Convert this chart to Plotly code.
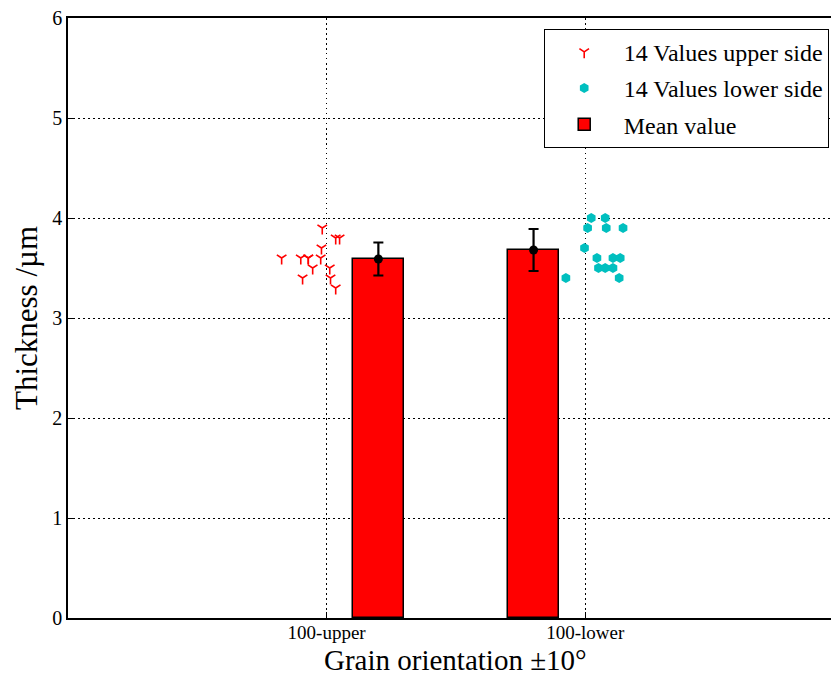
import plotly.graph_objects as go

categories = ["100-upper", "100-lower"]
cat_pos = [0, 1]

upper_values = [3.9, 3.8, 3.8, 3.7, 3.6, 3.6, 3.6, 3.6, 3.6, 3.5, 3.5, 3.4, 3.4, 3.3]
upper_jitter = [-0.017, 0.035, 0.050, -0.020, -0.174, -0.100, -0.071, -0.071, -0.023, -0.054, 0.012, -0.093, 0.015, 0.035]

lower_values = [4.0, 4.0, 3.9, 3.9, 3.9, 3.7, 3.6, 3.6, 3.6, 3.5, 3.5, 3.5, 3.4, 3.4]
lower_jitter = [0.023, 0.077, 0.009, 0.081, 0.146, -0.003, 0.045, 0.107, 0.135, 0.051, 0.077, 0.107, -0.075, 0.131]

mean_values = [3.59, 3.68]
mean_errors = [0.165, 0.21]
bar_offsets = [0.2, -0.2]
bar_width = 0.2

serif = "Liberation Serif, Times New Roman, serif"
dots = "1.5px,3.5px"

fig = go.Figure()

fig.add_trace(go.Scatter(
    x=[cat_pos[0] + j for j in upper_jitter], y=upper_values,
    mode="markers", name="14 Values upper side", legendgroup="a",
    marker=dict(symbol="y-down", size=8, color="red",
                line=dict(color="red", width=1.6)),
))
fig.add_trace(go.Scatter(
    x=[cat_pos[1] + j for j in lower_jitter], y=lower_values,
    mode="markers", name="14 Values lower side", legendgroup="b",
    marker=dict(symbol="hexagon", size=10, color="#00bfbf",
                line=dict(width=0)),
))
bar_x = [p + o for p, o in zip(cat_pos, bar_offsets)]
fig.add_trace(go.Bar(
    x=bar_x, y=mean_values, width=bar_width, name="Mean value", legendgroup="c",
    marker=dict(color="red", line=dict(color="black", width=1.5)),
))
fig.add_trace(go.Scatter(
    x=bar_x, y=mean_values, mode="markers", showlegend=False,
    marker=dict(color="black", size=9),
    error_y=dict(type="data", array=mean_errors, color="black",
                 thickness=2.2, width=5),
))

fig.add_annotation(
    x=0.5, xref="x", y=-0.07, yref="paper", yanchor="middle",
    text="Grain orientation ±10°", showarrow=False, borderpad=0,
    font=dict(family=serif, size=29, color="black"),
)

fig.update_layout(
    width=831, height=679,
    margin=dict(l=68, r=0, t=18, b=61),
    plot_bgcolor="white", paper_bgcolor="white",
    font=dict(family=serif, color="black"),
    bargap=0,
    legend=dict(
        x=0.997, xanchor="right", y=0.982, yanchor="top",
        bgcolor="white", bordercolor="black", borderwidth=1,
        font=dict(family=serif, size=24, color="black"),
        traceorder="grouped", tracegroupgap=2, itemwidth=69,
    ),
    xaxis=dict(
        range=[-1.0, 1.95], tickvals=cat_pos, ticktext=categories,
        showgrid=True, gridcolor="black", griddash=dots, gridwidth=1,
        showline=True, linecolor="black", linewidth=1.5, mirror=True,
        ticks="inside", ticklen=6, tickcolor="black",
        tickfont=dict(family=serif, size=19, color="black"),
        ticklabelstandoff=-4,
        zeroline=False,
    ),
    yaxis=dict(
        range=[0, 6], tickvals=[0, 1, 2, 3, 4, 5, 6],
        showgrid=True, gridcolor="black", griddash=dots, gridwidth=1,
        showline=True, linecolor="black", linewidth=1.5, mirror=False,
        ticks="inside", ticklen=6, tickcolor="black",
        tickfont=dict(family=serif, size=20, color="black"),
        zeroline=False,
        title=dict(text="Thickness /µm", font=dict(family=serif, size=31, color="black"), standoff=5),
    ),
)

fig.write_html(
    "out.html",
    config={"displayModeBar": False},
    post_script="document.body.style.margin='0';document.body.style.overflow='hidden';",
)
